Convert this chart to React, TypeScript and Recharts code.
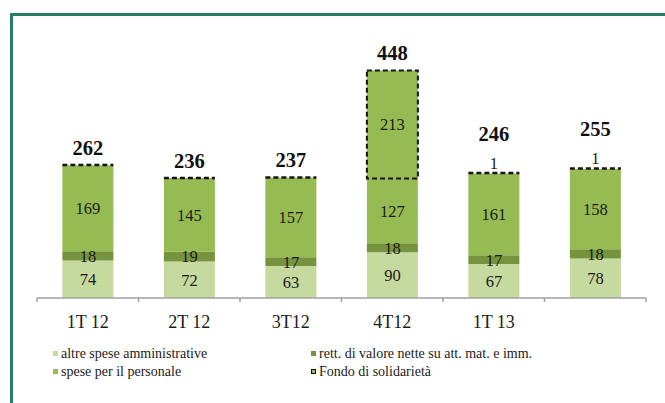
import React from 'react';
import { BarChart, Bar, XAxis, YAxis, LabelList, Legend } from 'recharts';

const categories = ['1T 12', '2T 12', '3T12', '4T12', '1T 13', ''];
const altreSpese = [74, 72, 63, 90, 67, 78];
const rettValore = [18, 19, 17, 18, 17, 18];
const personale = [169, 145, 157, 127, 161, 158];
const fondo = [1, 0.4, 0.4, 213, 1, 1];
const fondoLabels = ['', '', '', '213', '1', '1'];
const totals = [262, 236, 237, 448, 246, 255];

const seriesNames = {
  altre: 'altre spese amministrative',
  rett: 'rett. di valore nette su att. mat. e imm.',
  pers: 'spese per il personale',
  fondo: 'Fondo di solidarietà',
};

const C_LIGHT = '#c6d99e';
const C_DARK = '#76943d';
const C_MID = '#96bb52';
const FONT = '"Liberation Serif", "Times New Roman", Tinos, serif';

const data = categories.map((c, i) => ({
  cat: c,
  altre: altreSpese[i],
  rett: rettValore[i],
  pers: personale[i],
  fondo: fondo[i],
  fondoLabel: fondoLabels[i],
  total: totals[i],
}));

const FondoShape = (props: any) => {
  const { x, y, width, height } = props;
  if (height < 3) {
    return (
      <line x1={x} x2={x + width} y1={y} y2={y} stroke="#151515" strokeWidth={2.5} strokeDasharray="5 3" />
    );
  }
  return (
    <g>
      <rect x={x} y={y} width={width} height={height} fill={C_MID} />
      <rect x={x} y={y} width={width} height={height} fill="none" stroke="#151515" strokeWidth={2} strokeDasharray="5 3" />
    </g>
  );
};

const FondoLabel = (props: any) => {
  const { x, y, width, height, index } = props;
  const lbl = fondoLabels[index];
  if (!lbl) return null;
  const big = height > 20;
  const cy = big ? y + height / 2 : y - 10;
  return (
    <text x={x + width / 2} y={cy} textAnchor="middle" dominantBaseline="central" fontFamily={FONT} fontSize={16.5} fill="#1a1a1a">
      {lbl}
    </text>
  );
};

const TotalLabel = (props: any) => {
  const { x, y, width, height, index } = props;
  const lbl = fondoLabels[index];
  const smallAbove = lbl && height < 20;
  const top = Math.min(y, y + height);
  const cy = smallAbove ? top - 39 : top - 17;
  return (
    <text x={x + width / 2} y={cy} textAnchor="middle" dominantBaseline="central" fontFamily={FONT} fontSize={20.5} fontWeight="bold" fill="#111">
      {totals[index]}
    </text>
  );
};

const TICK_SIZE = 4;
const TICK_MARGIN = 14;

const CategoryTick = (props: any) => {
  const { x, y, payload, index, visibleTicksCount } = props;
  const half = payload && payload.offset ? payload.offset : 0;
  const axisY = y - TICK_SIZE - TICK_MARGIN;
  const isLast = index === (visibleTicksCount ? visibleTicksCount - 1 : categories.length - 1);
  return (
    <g>
      <line x1={x - half} x2={x - half} y1={axisY} y2={axisY + TICK_SIZE} stroke="#a0a0a0" strokeWidth={1.5} />
      {isLast && (
        <line x1={x + half} x2={x + half} y1={axisY} y2={axisY + TICK_SIZE} stroke="#a0a0a0" strokeWidth={1.5} />
      )}
      <text x={x} y={y + 6} textAnchor="middle" dominantBaseline="central" fontFamily={FONT} fontSize={18} fill="#1a1a1a">
        {payload.value}
      </text>
    </g>
  );
};

const legendItems = [
  { key: 'altre', color: C_LIGHT, dashed: false },
  { key: 'rett', color: C_DARK, dashed: false },
  { key: 'pers', color: C_MID, dashed: false },
  { key: 'fondo', color: C_MID, dashed: true },
];

const LegendContent = () => (
  <div style={{ position: 'relative', width: 665, height: 40, fontFamily: FONT, fontSize: 14, lineHeight: '18px', color: '#1a1a1a' }}>
    {legendItems.map((it, i) => {
      const col = i % 2;
      const row = Math.floor(i / 2);
      return (
        <div
          key={it.key}
          style={{
            position: 'absolute',
            left: col === 0 ? 53 : 311,
            top: row * 18,
            height: 18,
            whiteSpace: 'nowrap',
          }}
        >
          <span
            style={{
              position: 'absolute',
              left: 0,
              top: 6,
              width: it.dashed ? 3 : 5,
              height: it.dashed ? 3 : 5,
              background: it.color,
              border: it.dashed ? '1px dashed #111' : 'none',
            }}
          />
          <span style={{ position: 'absolute', left: 8, top: 0 }}>{(seriesNames as any)[it.key]}</span>
        </div>
      );
    })}
  </div>
);

const labelStyle = { fontFamily: FONT, fontSize: 16.5, fill: '#1a1a1a' };

export default function App() {
  return (
    <div style={{ position: 'absolute', left: 0, top: 0, width: 665, height: 403, overflow: 'hidden', background: '#fff' }}>
      <div
        style={{
          position: 'absolute',
          left: 10,
          top: 13,
          width: 700,
          height: 450,
          borderTop: '3px solid #2a7c67',
          borderLeft: '3px solid #2a7c67',
          boxSizing: 'border-box',
        }}
      />
      <div style={{ position: 'absolute', left: 0, top: 0 }}>
        <BarChart
          width={665}
          height={403}
          data={data}
          margin={{ top: 44, right: 19, left: 37, bottom: 75 }}
          barCategoryGap="25%"
        >
          <YAxis hide domain={[0, 500]} />
          <XAxis
            dataKey="cat"
            axisLine={{ stroke: '#a0a0a0', strokeWidth: 1.5 }}
            tickLine={false}
            tickSize={TICK_SIZE}
            tickMargin={TICK_MARGIN}
            height={30}
            interval={0}
            tick={<CategoryTick />}
          />
          <Legend
            layout="vertical"
            align="center"
            verticalAlign="middle"
            wrapperStyle={{ position: 'absolute', left: 0, top: 345, width: 665 }}
            content={<LegendContent />}
          />
          <Bar dataKey="altre" stackId="a" fill={C_LIGHT} isAnimationActive={false} name={seriesNames.altre}>
            <LabelList dataKey="altre" position="center" style={labelStyle} />
          </Bar>
          <Bar dataKey="rett" stackId="a" fill={C_DARK} isAnimationActive={false} name={seriesNames.rett}>
            <LabelList dataKey="rett" position="center" style={labelStyle} />
          </Bar>
          <Bar dataKey="pers" stackId="a" fill={C_MID} isAnimationActive={false} name={seriesNames.pers}>
            <LabelList dataKey="pers" position="center" style={labelStyle} />
          </Bar>
          <Bar dataKey="fondo" stackId="a" fill={C_MID} isAnimationActive={false} name={seriesNames.fondo} shape={<FondoShape />}>
            <LabelList dataKey="fondoLabel" content={<FondoLabel />} />
            <LabelList dataKey="total" content={<TotalLabel />} />
          </Bar>
        </BarChart>
      </div>
    </div>
  );
}
